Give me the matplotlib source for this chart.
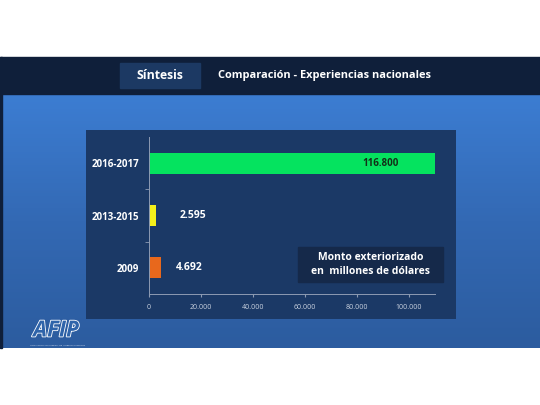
import numpy as np
import matplotlib.pyplot as plt
from matplotlib.patches import Rectangle
from matplotlib.colors import LinearSegmentedColormap
import matplotlib.patheffects as pe

periodos = ["2009", "2013-2015", "2016-2017"]
montos = [4692, 2595, 116800]
etiquetas = ["4.692", "2.595", "116.800"]
colores = ["#e8681c", "#f4f01a", "#05e35f"]
xticks = [0, 20000, 40000, 60000, 80000, 100000]
xticklabels = ["0", "20.000", "40.000", "60.000", "80.000", "100.000"]

plt.rcParams['font.family'] = ['Open Sans', 'DejaVu Sans']

W, H = 540, 405
fig = plt.figure(figsize=(5.4, 4.05), dpi=100, facecolor="white")


def fx(x):
    return x / W


def fy(y):
    return 1 - y / H


def box(x0, y0, x1, y1, color, z=0):
    fig.patches.append(Rectangle((fx(x0), fy(y1)), fx(x1) - fx(x0), fy(y0) - fy(y1),
                                 transform=fig.transFigure, color=color, zorder=z))


# fondo azul con degradado
bg = fig.add_axes([0, fy(348), 1, fy(94) - fy(348)])
cmap = LinearSegmentedColormap.from_list("azul", ["#3c7dd2", "#3369b4", "#2c5c9f"])
bg.imshow(np.linspace(0, 1, 100).reshape(-1, 1), aspect="auto", cmap=cmap,
          extent=[0, 1, 0, 1])
bg.axis("off")
bg.set_zorder(-5)

# banda superior
box(0, 57, 540, 94, "#0f1f3a", 1)
box(0, 57, 2, 348, "#0f1f3a", 1)
box(120, 63, 200, 88, "#1c3963", 2)
fig.text(fx(160), fy(75.5), "Síntesis", color="white", fontsize=8.8, fontweight="bold",
         ha="center", va="center", zorder=3)
fig.text(fx(324), fy(75.5), "Comparación - Experiencias nacionales", color="white",
         fontsize=7.9, fontweight="bold", ha="center", va="center", zorder=3)

# panel del grafico
panel = fig.add_axes([fx(86), fy(319), fx(456) - fx(86), fy(130) - fy(319)])
panel.set_facecolor("#1b3966")
panel.set_xticks([])
panel.set_yticks([])
for s in panel.spines.values():
    s.set_visible(False)
panel.set_zorder(-1)

ax = fig.add_axes([fx(149), fy(294), fx(435) - fx(149), fy(137) - fy(294)])
ax.set_facecolor("none")
y = np.arange(len(periodos))
ax.barh(y, montos, height=0.4, color=colores, zorder=2)
ax.set_xlim(0, 110000)
ax.set_ylim(-0.5, 2.5)
ax.set_yticks(y)
ax.set_yticklabels(periodos, color="white", fontsize=7, fontweight="bold")
ax.set_yticks([0.5, 1.5], minor=True)
ax.tick_params(axis="y", which="major", length=0, pad=7)
ax.tick_params(axis="y", which="minor", length=3, color="#8d9bb3")
ax.set_xticks(xticks)
ax.set_xticklabels(xticklabels, color="#c9d2e0", fontsize=5)
ax.tick_params(axis="x", length=2, color="#8d9bb3", pad=5)
for s in ["top", "right"]:
    ax.spines[s].set_visible(False)
for s in ["left", "bottom"]:
    ax.spines[s].set_color("#8d9bb3")
    ax.spines[s].set_linewidth(0.7)

ax.text(89000, 2, etiquetas[2], color="#123018", fontsize=7, fontweight="bold",
        ha="center", va="center", zorder=3)
ax.text(montos[1] + 9000, 1, etiquetas[1], color="white", fontsize=7.5, fontweight="bold",
        ha="left", va="center")
ax.text(montos[0] + 5500, 0, etiquetas[0], color="white", fontsize=7.5, fontweight="bold",
        ha="left", va="center")

# recuadro de unidades
box(298, 247, 443, 282, "#15294a", 0)
fig.text(fx(370.5), fy(264.5), "Monto exteriorizado\nen  millones de dólares", color="white",
         fontsize=7.5, fontweight="bold", ha="center", va="center", linespacing=1.4, zorder=3)

# logo
t = fig.text(fx(56), fy(331), "AFIP", color="#2f64aa", fontsize=16, fontweight="bold",
             fontstyle="italic", ha="center", va="center", zorder=3)
t.set_path_effects([pe.Stroke(linewidth=1.2, foreground="white"), pe.Normal()])
fig.text(fx(58), fy(345.5), "ADMINISTRACION FEDERAL DE INGRESOS PUBLICOS", color="#dfe7f3",
         fontsize=1.6, ha="center", va="center", zorder=3)

fig.savefig("out.png", dpi=100, facecolor="white")
